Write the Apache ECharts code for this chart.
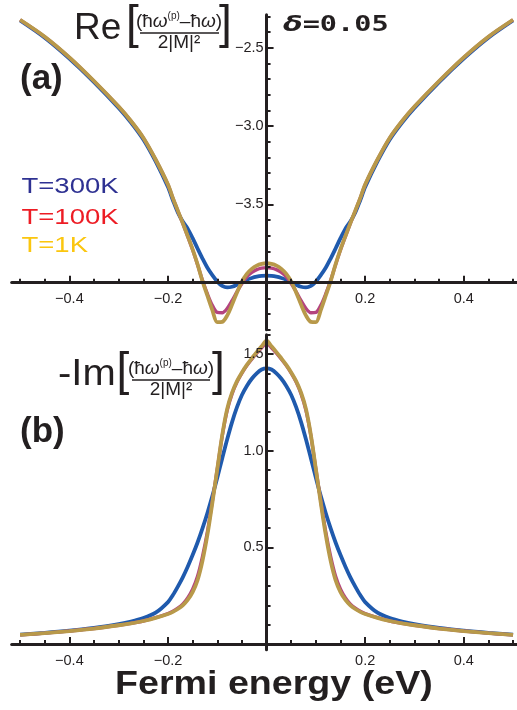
<!DOCTYPE html>
<html>
<head>
<meta charset="utf-8">
<script src="https://cdn.jsdelivr.net/npm/echarts@6/dist/echarts.min.js"></script>
<style>
  html, body { margin: 0; padding: 0; background: #ffffff; }
  #chart { width: 517px; height: 710px; }
</style>
</head>
<body>
<div id="chart"></div>
<script>
// Fermi energy grid (eV)
const energy = [
  -0.5, -0.45, -0.4, -0.35, -0.3, -0.275, -0.25, -0.225,
  -0.2, -0.19, -0.18, -0.17, -0.16, -0.15, -0.14, -0.13, -0.12, -0.11, -0.1,
  -0.09, -0.08, -0.07, -0.06, -0.05, -0.04, -0.03, -0.02, -0.01,
  0,
  0.01, 0.02, 0.03, 0.04, 0.05, 0.06, 0.07, 0.08, 0.09,
  0.1, 0.11, 0.12, 0.13, 0.14, 0.15, 0.16, 0.17, 0.18, 0.19, 0.2,
  0.225, 0.25, 0.275, 0.3, 0.35, 0.4, 0.45, 0.5
];

// (a) real part
const reT300 = [
  -2.327, -2.437, -2.570, -2.720, -2.885, -2.978, -3.086, -3.226,
  -3.390, -3.474, -3.552, -3.610, -3.655, -3.716, -3.782, -3.846, -3.905, -3.952, -3.993,
  -4.020, -4.030, -4.026, -4.013, -3.996, -3.981, -3.970, -3.962, -3.957,
  -3.955,
  -3.957, -3.962, -3.970, -3.981, -3.996, -4.013, -4.026, -4.030, -4.020,
  -3.993, -3.952, -3.905, -3.846, -3.782, -3.716, -3.655, -3.610, -3.552, -3.474, -3.390,
  -3.226, -3.086, -2.978, -2.885, -2.720, -2.570, -2.437, -2.327
];
const reT100 = [
  -2.323, -2.431, -2.563, -2.714, -2.877, -2.969, -3.076, -3.215,
  -3.375, -3.461, -3.541, -3.621, -3.704, -3.790, -3.885, -3.985, -4.072, -4.145, -4.190,
  -4.192, -4.165, -4.115, -4.058, -4.005, -3.963, -3.935, -3.917, -3.907,
  -3.904,
  -3.907, -3.917, -3.935, -3.963, -4.005, -4.058, -4.115, -4.165, -4.192,
  -4.190, -4.145, -4.072, -3.985, -3.885, -3.790, -3.704, -3.621, -3.541, -3.461, -3.375,
  -3.215, -3.076, -2.969, -2.877, -2.714, -2.563, -2.431, -2.323
];
const reT1 = [
  -2.322, -2.430, -2.562, -2.713, -2.876, -2.968, -3.075, -3.214,
  -3.374, -3.460, -3.540, -3.620, -3.702, -3.787, -3.882, -3.990, -4.083, -4.175, -4.252,
  -4.250, -4.210, -4.140, -4.062, -3.993, -3.944, -3.912, -3.891, -3.880,
  -3.876,
  -3.880, -3.891, -3.912, -3.944, -3.993, -4.062, -4.140, -4.210, -4.250,
  -4.252, -4.175, -4.083, -3.990, -3.882, -3.787, -3.702, -3.620, -3.540, -3.460, -3.374,
  -3.214, -3.075, -2.968, -2.876, -2.713, -2.562, -2.430, -2.322
];

// (b) minus imaginary part
const imT300 = [
  0.049, 0.058, 0.069, 0.083, 0.103, 0.116, 0.134, 0.162,
  0.217, 0.253, 0.297, 0.345, 0.400, 0.460, 0.525, 0.598, 0.678, 0.765, 0.860,
  0.960, 1.058, 1.148, 1.225, 1.288, 1.335, 1.372, 1.400, 1.420,
  1.426,
  1.420, 1.400, 1.372, 1.335, 1.288, 1.225, 1.148, 1.058, 0.960,
  0.860, 0.765, 0.678, 0.598, 0.525, 0.460, 0.400, 0.345, 0.297, 0.253, 0.217,
  0.162, 0.134, 0.116, 0.103, 0.083, 0.069, 0.058, 0.049
];
const imT100 = [
  0.047, 0.056, 0.067, 0.080, 0.097, 0.107, 0.119, 0.136,
  0.157, 0.169, 0.185, 0.206, 0.238, 0.283, 0.350, 0.452, 0.580, 0.738, 0.905,
  1.075, 1.207, 1.294, 1.355, 1.401, 1.440, 1.473, 1.504, 1.532,
  1.557,
  1.532, 1.504, 1.473, 1.440, 1.401, 1.355, 1.294, 1.207, 1.075,
  0.905, 0.738, 0.580, 0.452, 0.350, 0.283, 0.238, 0.206, 0.185, 0.169, 0.157,
  0.136, 0.119, 0.107, 0.097, 0.080, 0.067, 0.056, 0.047
];
const imT1 = [
  0.047, 0.056, 0.067, 0.080, 0.097, 0.107, 0.119, 0.135,
  0.155, 0.166, 0.181, 0.200, 0.228, 0.268, 0.330, 0.430, 0.565, 0.730, 0.905,
  1.080, 1.215, 1.300, 1.360, 1.405, 1.444, 1.478, 1.510, 1.540,
  1.569,
  1.540, 1.510, 1.478, 1.444, 1.405, 1.360, 1.300, 1.215, 1.080,
  0.905, 0.730, 0.565, 0.430, 0.330, 0.268, 0.228, 0.200, 0.181, 0.166, 0.155,
  0.135, 0.119, 0.107, 0.097, 0.080, 0.067, 0.056, 0.047
];

const temperatureLabels = ['T=300K', 'T=100K', 'T=1K'];

// ticks and labels
const xTickLabels = [-0.4, -0.2, 0.2, 0.4];
const xMajorTicks = [-0.4, -0.2, 0.2, 0.4];
const xMinorTicks = [-0.5, -0.45, -0.35, -0.3, -0.25, -0.15, -0.1, -0.05,
                     0.05, 0.1, 0.15, 0.25, 0.3, 0.35, 0.45, 0.5];
const reTickLabels = [-3.5, -3.0, -2.5];
const reMinorTicks = [-4.3, -4.2, -4.1, -3.9, -3.8, -3.7, -3.6, -3.4, -3.3, -3.2, -3.1,
                      -2.9, -2.8, -2.7, -2.6, -2.4, -2.3];
const imTickLabels = [0.5, 1.0, 1.5];
const imMinorTicks = [0.1, 0.2, 0.3, 0.4, 0.6, 0.7, 0.8, 0.9, 1.1, 1.2, 1.3, 1.4, 1.6];

// layout
const CHART_W = 517;
const X_MIN = -0.517, X_MAX = 0.508;
const RE_MIN = -4.3, RE_MAX = -2.29, RE_AXIS_AT = -4.0;
const IM_MIN = -0.03, IM_MAX = 1.6, IM_AXIS_AT = 0;
const reGrid = { left: 11.7, right: 0, top: 14.7, height: 315 };
const imGrid = { left: 11.7, right: 0, top: 334.7, height: 315.1 };
const gridWidth = CHART_W - reGrid.left - reGrid.right;

// axes cross at E = 0 and at the stated ordinate; place them by offset
const yAxisOffset = -gridWidth * (0 - X_MIN) / (X_MAX - X_MIN);
const reAxisOffset = -reGrid.height * (RE_AXIS_AT - RE_MIN) / (RE_MAX - RE_MIN);
const imAxisOffset = -imGrid.height * (IM_AXIS_AT - IM_MIN) / (IM_MAX - IM_MIN);

const ink = '#231f20';
const sans = '"Liberation Sans", Arial, Helvetica, sans-serif';
const lineColors = ['#1f5aad', '#b4447f', '#b8994a'];
const legendColors = ['#2e3192', '#ed1c24', '#fbc60f'];

function fmt(v) {
  return (v < 0 ? '\u2212' : '') + Math.abs(v).toFixed(1);
}

function majorAxis(dim, gridIndex, min, max, labels, ticks, offset) {
  return {
    type: 'value', gridIndex, min, max, z: 10,
    position: dim === 'x' ? 'bottom' : 'left', offset,
    splitLine: { show: false },
    axisLine: { show: true, onZero: false, lineStyle: { color: ink, width: 3 } },
    axisTick: { show: true, inside: true, length: 7, customValues: ticks,
                lineStyle: { color: ink, width: 2 } },
    axisLabel: { show: true, customValues: labels, formatter: fmt, color: ink,
                 fontFamily: sans, fontSize: 14.5, margin: dim === 'x' ? 9 : 3 }
  };
}
function minorAxis(dim, gridIndex, min, max, ticks, offset) {
  return {
    type: 'value', gridIndex, min, max, z: 10,
    position: dim === 'x' ? 'bottom' : 'left', offset,
    splitLine: { show: false },
    axisLine: { show: false, onZero: false },
    axisTick: { show: true, inside: true, length: 4, customValues: ticks,
                lineStyle: { color: ink, width: 2 } },
    axisLabel: { show: false }
  };
}

function curve(name, xIdx, yIdx, values, color, width, z) {
  return {
    name, type: 'line', xAxisIndex: xIdx, yAxisIndex: yIdx, z,
    data: energy.map((e, i) => [e, values[i]]),
    showSymbol: false, smooth: 0.3,
    lineStyle: { color, width }, itemStyle: { color },
    silent: true
  };
}

function label(text, x, y, size, opts) {
  opts = opts || {};
  return {
    type: 'text', x, y, z: 20,
    scaleX: opts.scaleX || 1,
    style: {
      text, fill: opts.color || ink, fontSize: size,
      fontFamily: opts.family || sans, fontWeight: opts.weight || 'normal',
      fontStyle: opts.style || 'normal',
      align: opts.align || 'left', verticalAlign: 'middle',
      rich: opts.rich
    }
  };
}

const fracRich = {
  n: { fontSize: 19, fontFamily: sans, fill: ink, lineHeight: 22 },
  w: { fontSize: 19, fontFamily: sans, fontStyle: 'italic', fill: ink, lineHeight: 22 },
  s: { fontSize: 10, fontFamily: sans, fill: ink, verticalAlign: 'top', lineHeight: 10 }
};
const numerator = '{n|(ħ}{w|ω}{s|(p)}{n|\u2013ħ}{w|ω}{n|)}';
const denominator = '{n|2|M|²}';

function fractionTitle(prefix, px, cy, bx, numCx, numY, lineY, denY, lineX1, lineX2, cbx, scaleX) {
  return [
    label(prefix, px, cy, 37, { scaleX }),
    label('[', bx, cy - 3, 46),
    label(numerator, numCx, numY, 19, { align: 'center', rich: fracRich }),
    { type: 'line', z: 20, shape: { x1: lineX1, y1: lineY, x2: lineX2, y2: lineY },
      style: { stroke: ink, lineWidth: 1.3 } },
    label(denominator, numCx, denY, 19, { align: 'center', rich: fracRich }),
    label(']', cbx, cy - 3, 46)
  ];
}

const graphics = [].concat(
  fractionTitle('Re', 74, 28.5, 126, 179, 22, 33, 42.5, 140, 219, 219, 1),
  fractionTitle('-Im', 58, 375, 116.5, 171, 369, 380, 390, 132, 210, 212, 1.08),
  [
    {
      type: 'text', x: 283, y: 25, z: 20, scaleX: 1.3,
      style: {
        text: '{d|δ}{m|=0.05}', align: 'left', verticalAlign: 'middle',
        rich: {
          d: { fontSize: 22, fontFamily: '"DejaVu Sans"', fontStyle: 'italic', fontWeight: 'bold', fill: ink },
          m: { fontSize: 22, fontFamily: '"DejaVu Sans Mono"', fontWeight: 'bold', fill: ink }
        }
      }
    },
    label('(a)', 20, 79.5, 35, { weight: 'bold' }),
    label('(b)', 20, 432.5, 35, { weight: 'bold' }),
    label(temperatureLabels[0], 21.5, 187, 22, { color: legendColors[0], scaleX: 1.25 }),
    label(temperatureLabels[1], 21.5, 218, 22, { color: legendColors[1], scaleX: 1.25 }),
    label(temperatureLabels[2], 21.5, 246, 22, { color: legendColors[2], scaleX: 1.25 }),
    label('Fermi energy (eV)', 115, 685, 33, { weight: 'bold', scaleX: 1.14 })
  ]
);

const option = {
  animation: false,
  backgroundColor: '#ffffff',
  grid: [
    Object.assign({ containLabel: false, outerBoundsMode: 'none' }, reGrid),
    Object.assign({ containLabel: false, outerBoundsMode: 'none' }, imGrid)
  ],
  xAxis: [
    majorAxis('x', 0, X_MIN, X_MAX, xTickLabels, xMajorTicks, reAxisOffset),
    minorAxis('x', 0, X_MIN, X_MAX, xMinorTicks, reAxisOffset),
    majorAxis('x', 1, X_MIN, X_MAX, xTickLabels, xMajorTicks, imAxisOffset),
    minorAxis('x', 1, X_MIN, X_MAX, xMinorTicks, imAxisOffset)
  ],
  yAxis: [
    majorAxis('y', 0, RE_MIN, RE_MAX, reTickLabels, reTickLabels, yAxisOffset),
    minorAxis('y', 0, RE_MIN, RE_MAX, reMinorTicks, yAxisOffset),
    majorAxis('y', 1, IM_MIN, IM_MAX, imTickLabels, imTickLabels, yAxisOffset),
    minorAxis('y', 1, IM_MIN, IM_MAX, imMinorTicks, yAxisOffset)
  ],
  series: [
    curve(temperatureLabels[0], 0, 0, reT300, lineColors[0], 3.8, 2),
    curve(temperatureLabels[1], 0, 0, reT100, lineColors[1], 3.4, 3),
    curve(temperatureLabels[2], 0, 0, reT1, lineColors[2], 3.8, 4),
    curve(temperatureLabels[0], 2, 2, imT300, lineColors[0], 3.8, 2),
    curve(temperatureLabels[1], 2, 2, imT100, lineColors[1], 3.4, 3),
    curve(temperatureLabels[2], 2, 2, imT1, lineColors[2], 3.8, 4)
  ],
  graphic: graphics
};

const chart = echarts.init(document.getElementById('chart'), null, { renderer: 'canvas' });
chart.setOption(option);
</script>
</body>
</html>
